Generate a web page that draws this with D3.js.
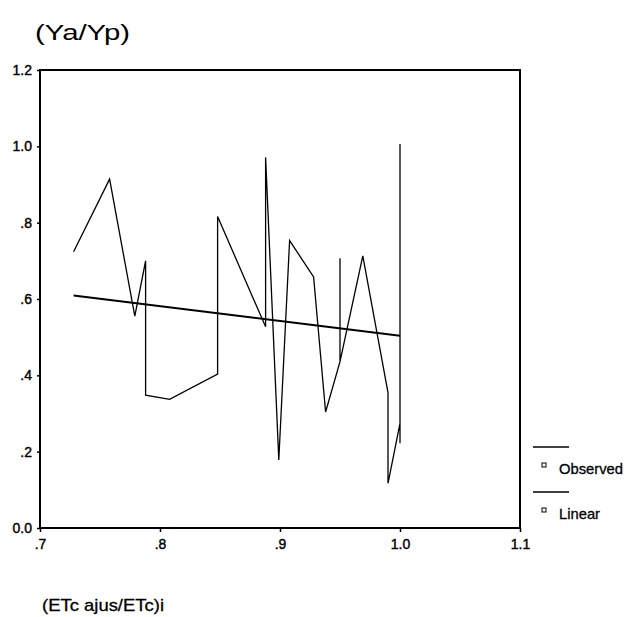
<!DOCTYPE html>
<html>
<head>
<meta charset="utf-8">
<script src="https://cdn.jsdelivr.net/npm/d3@7"></script>
<style>
  body { margin: 0; background: #fff; }
  svg text { font-family: "Liberation Sans", Arial, sans-serif; fill: #000; }
</style>
</head>
<body>
<div id="chart"></div>
<script>
// observed points, in the order the polyline joins them
const observedX = [0.728, 0.758, 0.779, 0.788, 0.788, 0.808, 0.848, 0.848, 0.888, 0.888,
                   0.899, 0.908, 0.928, 0.938, 0.950, 0.950, 0.950, 0.969, 0.990, 0.990,
                   1.000, 1.000, 1.000];
const observedY = [0.724, 0.914, 0.555, 0.700, 0.348, 0.337, 0.403, 0.816, 0.527, 0.971,
                   0.178, 0.753, 0.658, 0.304, 0.436, 0.707, 0.436, 0.713, 0.355, 0.117,
                   0.274, 1.006, 0.222];
// fitted linear line (end points)
const linearX = [0.728, 1.000];
const linearY = [0.609, 0.504];

const xTicks = [0.7, 0.8, 0.9, 1.0, 1.1];
const xTickLabels = [".7", ".8", ".9", "1.0", "1.1"];
const yTicks = [0, 0.2, 0.4, 0.6, 0.8, 1.0, 1.2];
const yTickLabels = ["0.0", ".2", ".4", ".6", ".8", "1.0", "1.2"];
const legendNames = ["Observed", "Linear"];

const width = 626, height = 617;
const plotLeft = 40, plotRight = 520, plotTop = 70, plotBottom = 528;

const svg = d3.select("#chart").append("svg")
    .attr("width", width)
    .attr("height", height);

const x = d3.scaleLinear().domain([0.7, 1.1]).range([plotLeft, plotRight]);
const y = d3.scaleLinear().domain([0, 1.2]).range([plotBottom, plotTop]);

// frame
svg.append("rect")
    .attr("x", plotLeft).attr("y", plotTop)
    .attr("width", plotRight - plotLeft).attr("height", plotBottom - plotTop)
    .attr("fill", "none").attr("stroke", "#000").attr("stroke-width", 2);

// axes
const xAxis = svg.append("g")
    .attr("transform", `translate(0,${plotBottom})`)
    .call(d3.axisBottom(x).tickValues(xTicks)
        .tickFormat((d, i) => xTickLabels[i]).tickSize(4).tickSizeOuter(0).tickPadding(7));
const yAxis = svg.append("g")
    .attr("transform", `translate(${plotLeft},0)`)
    .call(d3.axisLeft(y).tickValues(yTicks)
        .tickFormat((d, i) => yTickLabels[i]).tickSize(3).tickSizeOuter(0).tickPadding(5));

[xAxis, yAxis].forEach(g => {
    g.select(".domain").remove();
    g.selectAll("line").attr("stroke", "#000").attr("stroke-width", 1.5);
    g.selectAll("text")
        .attr("font-size", 14)
        .attr("stroke", "#000").attr("stroke-width", 0.4)
        .style("font-family", "Liberation Sans, Arial, sans-serif");
});

// observed line
const observed = observedX.map((v, i) => [v, observedY[i]]);
const linear = linearX.map((v, i) => [v, linearY[i]]);
const line = d3.line().x(d => x(d[0])).y(d => y(d[1]));

svg.append("path")
    .datum(observed)
    .attr("d", line)
    .attr("fill", "none")
    .attr("stroke", "#000")
    .attr("stroke-width", 1.3)
    .attr("stroke-linejoin", "miter");

svg.append("path")
    .datum(linear)
    .attr("d", line)
    .attr("fill", "none")
    .attr("stroke", "#000")
    .attr("stroke-width", 2);

// titles
svg.append("text")
    .attr("x", 35).attr("y", 40)
    .attr("font-size", 22)
    .attr("textLength", 95).attr("lengthAdjust", "spacingAndGlyphs")
    .text("(Ya/Yp)");

svg.append("text")
    .attr("x", 42).attr("y", 611)
    .attr("font-size", 17)
    .attr("stroke", "#000").attr("stroke-width", 0.3)
    .attr("textLength", 122).attr("lengthAdjust", "spacingAndGlyphs")
    .text("(ETc ajus/ETc)i");

// legend
const legend = svg.append("g");
legendNames.forEach((name, i) => {
    const oy = 447 + i * 45;
    legend.append("line")
        .attr("x1", 533).attr("x2", 569)
        .attr("y1", oy).attr("y2", oy)
        .attr("stroke", "#000").attr("stroke-width", 1.5);
    legend.append("rect")
        .attr("x", 542).attr("y", oy + 16)
        .attr("width", 4).attr("height", 4)
        .attr("fill", "none").attr("stroke", "#000").attr("stroke-width", 1);
    legend.append("text")
        .attr("x", 559).attr("y", oy + 27)
        .attr("font-size", 15)
        .attr("stroke", "#000").attr("stroke-width", 0.3)
        .attr("textLength", i === 0 ? 64 : 41).attr("lengthAdjust", "spacingAndGlyphs")
        .text(name);
});
</script>
</body>
</html>
